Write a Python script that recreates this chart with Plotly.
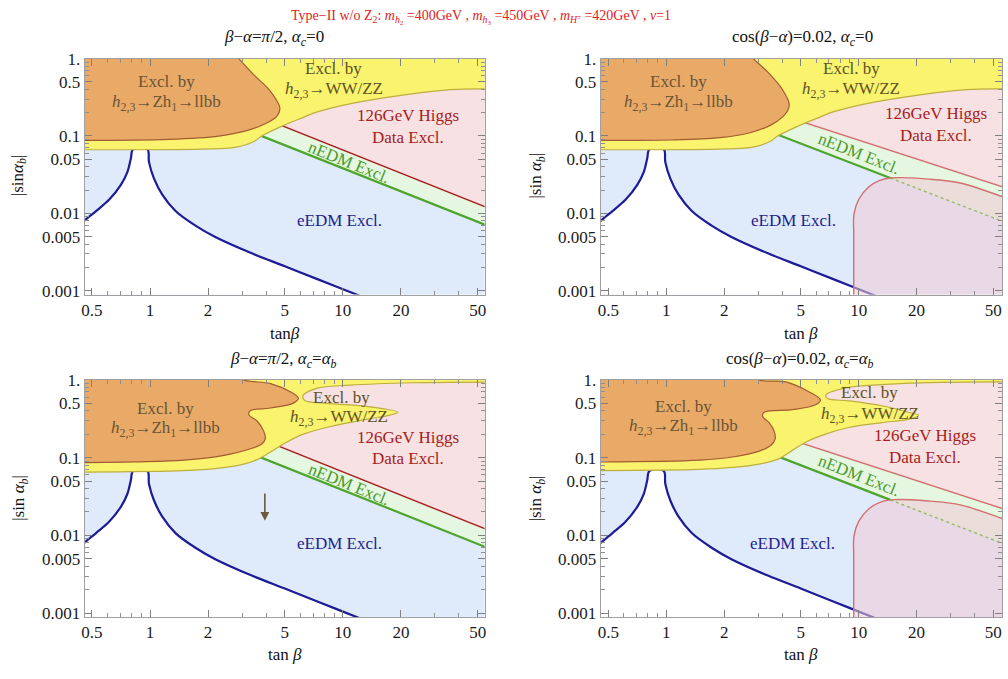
import numpy as np
import plotly.graph_objects as go

FONT = "Liberation Serif"

# ---------------- axis ticks ----------------
TANB_TICKS = [0.5, 1, 2, 5, 10, 20, 50]
TANB_LABELS = ["0.5", "1", "2", "5", "10", "20", "50"]
TANB_MINOR = [0.6, 0.7, 0.8, 0.9, 3, 4, 6, 7, 8, 9, 30, 40]
SIN_TICKS = [0.001, 0.005, 0.01, 0.05, 0.1, 0.5, 1]
SIN_LABELS = ["0.001", "0.005", "0.01", "0.05", "0.1", "0.5", "1."]
SIN_MINOR = [0.002, 0.003, 0.004, 0.006, 0.007, 0.008, 0.009,
             0.02, 0.03, 0.04, 0.06, 0.07, 0.08, 0.09,
             0.2, 0.3, 0.4, 0.6, 0.7, 0.8, 0.9]

# ---------------- region boundaries (tan beta, |sin alpha_b|) ----------------
# eEDM boundary (blue curve); allowed (white) region lies below it
EEDM_X = [0.44, 0.457, 0.525, 0.615, 0.706, 0.764, 0.795, 0.818, 0.969, 0.988,
          1.048, 1.158, 1.356, 1.72, 2.18, 3.37, 5.0, 7.43, 12.2, 14.0]
EEDM_Y = [0.0072, 0.00802, 0.0107, 0.01506, 0.0233, 0.0343, 0.0506, 0.0676, 0.0676, 0.0459,
          0.0283, 0.0174, 0.0107, 0.00693, 0.00494, 0.00304, 0.00207, 0.0014, 0.00086, 0.00075]

# nEDM exclusion line (green)
NEDM_L_X = [2.5, 90.0]
NEDM_L_Y = [0.1505, 0.00434]
NEDM_R_X = [2.5, 14.6, 90.0]
NEDM_R_Y = [0.155, 0.0286, 0.00498]

# 126 GeV Higgs data exclusion line (red)
HIGGS_L_X = [2.5, 90.0]
HIGGS_L_Y = [0.261, 0.00737]
HIGGS_R_X = [2.5, 90.0]
HIGGS_R_Y = [0.27, 0.01503]

# extra Higgs-data excluded island (cos(beta-alpha)=0.02 panels)
BLOB_X = [9.42, 9.42, 9.45, 10.0, 11.3, 12.7, 14.6, 23.0, 34.2, 55.2, 90.0]
BLOB_Y = [0.0004, 0.00544, 0.00975, 0.0151, 0.022, 0.0262, 0.0286, 0.0277, 0.0245, 0.0166, 0.0112]

# h_{2,3} -> WW/ZZ exclusion (yellow), lower boundary
YEL_T_X = [0.3, 1.86, 2.76, 3.5, 3.79, 4.81, 6.1, 7.43, 11.0, 20.0, 36.2, 90.0]
YEL_T_Y = [0.0664, 0.0676, 0.071, 0.0861, 0.0997, 0.133, 0.170, 0.206, 0.262, 0.335, 0.398, 0.398]
YEL_BL_X = [0.3, 1.50, 2.23, 3.06, 3.59, 4.21, 4.92, 6.24, 8.91, 13.2, 17.5, 19.3, 16.1, 11.75,
            7.92, 6.35, 6.2, 7.31, 10.9, 23.0, 90.0]
YEL_BL_Y = [0.0647, 0.068, 0.0727, 0.0826, 0.0944, 0.118, 0.150, 0.2006, 0.256, 0.310, 0.352, 0.384,
            0.427, 0.470, 0.503, 0.545, 0.62, 0.777, 0.855, 0.92, 0.94]
YEL_BR_X = [0.3, 1.49, 2.21, 3.04, 3.86, 4.52, 5.30, 6.72, 8.87, 13.2, 18.1, 20.5, 18.1, 13.2,
            8.87, 6.9, 6.75, 8.87, 13.2, 23.0, 90.0]
YEL_BR_Y = [0.068, 0.0706, 0.0748, 0.0826, 0.0972, 0.124, 0.158, 0.2006, 0.244, 0.282, 0.310, 0.35,
            0.384, 0.465, 0.538, 0.575, 0.64, 0.80, 0.87, 0.925, 0.945]

# h_{2,3} -> Z h_1 -> llbb exclusion (orange)
ORG_TL_X = [0.3, 1.25, 2.27, 3.24, 3.95, 4.53, 4.72, 4.53, 4.11, 3.50, 2.88, 2.6]
ORG_TL_Y = [0.0878, 0.0904, 0.0996, 0.119, 0.144, 0.178, 0.227, 0.289, 0.406, 0.598, 1.0, 1.3]
ORG_TR_X = [0.3, 1.05, 1.90, 2.72, 3.45, 4.04, 4.29, 4.35, 4.04, 3.45, 2.83, 2.55]
ORG_TR_Y = [0.0878, 0.0887, 0.0949, 0.11, 0.136, 0.178, 0.216, 0.263, 0.387, 0.628, 1.0, 1.3]
ORG_BL_X = [0.3, 0.83, 1.50, 2.42, 3.32, 3.80, 3.96, 3.88, 3.59, 3.25, 3.32, 4.21, 5.54, 5.88,
            5.33, 4.21, 3.06, 2.6]
ORG_BL_Y = [0.0858, 0.0883, 0.0927, 0.107, 0.130, 0.150, 0.174, 0.221, 0.296, 0.358, 0.403, 0.435,
            0.503, 0.581, 0.706, 0.898, 1.0, 1.3]
ORG_BR_X = [0.3, 1.49, 2.21, 3.04, 3.49, 3.68, 3.63, 3.42, 3.16, 3.23, 4.52, 5.97, 6.33, 5.30,
            4.18, 3.04, 2.7]
ORG_BR_Y = [0.0875, 0.0927, 0.102, 0.1215, 0.143, 0.174, 0.221, 0.282, 0.342, 0.384, 0.414, 0.479,
            0.554, 0.74, 0.943, 1.0, 1.3]

# label texts and positions (tan beta, |sin alpha_b|)
LABELS = ["Excl. by", "<i>h</i><sub>2,3</sub>→Zh<sub>1</sub>→llbb",
          "Excl. by", "<i>h</i><sub>2,3</sub>→WW/ZZ",
          "126GeV Higgs", "Data Excl.", "nEDM Excl.", "eEDM Excl."]
LBL_TL = [(1.22, 0.50), (1.22, 0.263), (8.99, 0.74), (8.99, 0.398),
          (21.8, 0.183), (21.8, 0.0968), (10.8, 0.0455), (9.6, 0.0080)]
LBL_TR = [(1.16, 0.50), (1.16, 0.263), (9.12, 0.74), (9.12, 0.387),
          (25.1, 0.196), (25.1, 0.1026), (10.0, 0.0595), (4.56, 0.0080)]
LBL_BL = [(1.20, 0.431), (1.20, 0.234), (9.8, 0.593), (9.6, 0.323),
          (21.8, 0.184), (21.8, 0.0964), (10.8, 0.0450), (9.6, 0.0078)]
LBL_BR = [(1.23, 0.461), (1.23, 0.249), (11.4, 0.68), (11.4, 0.356),
          (22.1, 0.193), (22.1, 0.101), (10.0, 0.0585), (4.52, 0.0078)]

# ---------------- styling ----------------
C_BG = "#DFEBFB"
C_WHITE = "#FFFFFF"
C_BLUE = "#1C1C96"
C_LGREEN = "#E5F7E1"
C_GREEN = "#4EA52E"
C_PINK = "#F8E1E2"
C_RED_L = "#A81C1C"
C_RED_R = "#D27070"
C_BLOB = "rgba(240,200,212,0.55)"
C_YEL = "#F9F36E"
C_YEL_LINE = "#BDAE3E"
C_ORG = "#E8AA66"
C_ORG_LINE = "#A45A32"
TXT_COLORS = ["#6A5438", "#6A5438", "#5E5224", "#5E5224", "#A51D1D", "#A51D1D", "#4C9A2C", "#22228C"]

Y_TOP, Y_BOT = 1.6, 0.0003

fig = go.Figure()


def lg(v):
    return float(np.log10(v))


def add_line(ax, xs, ys, color, width, dash="solid"):
    fig.add_trace(go.Scatter(x=xs, y=ys, mode="lines", xaxis=ax[0], yaxis=ax[1],
                             line=dict(color=color, width=width, dash=dash, shape="spline"),
                             hoverinfo="skip", showlegend=False))


def add_region(ax, xs, ys, fillcolor, side, line_color=None, line_width=0):
    yb = Y_TOP if side == "top" else Y_BOT
    fig.add_trace(go.Scatter(x=[xs[0], xs[-1]], y=[yb, yb], mode="lines", xaxis=ax[0], yaxis=ax[1],
                             line=dict(width=0), hoverinfo="skip", showlegend=False))
    fig.add_trace(go.Scatter(x=xs, y=ys, mode="lines", fill="tonexty", fillcolor=fillcolor,
                             xaxis=ax[0], yaxis=ax[1],
                             line=dict(color=line_color or fillcolor, width=line_width,
                                       shape="spline", smoothing=1.0),
                             hoverinfo="skip", showlegend=False))


panels = [
    (("x", "y"), "L", YEL_T_X, YEL_T_Y, ORG_TL_X, ORG_TL_Y, LBL_TL),
    (("x2", "y2"), "R", YEL_T_X, YEL_T_Y, ORG_TR_X, ORG_TR_Y, LBL_TR),
    (("x3", "y3"), "L", YEL_BL_X, YEL_BL_Y, ORG_BL_X, ORG_BL_Y, LBL_BL),
    (("x4", "y4"), "R", YEL_BR_X, YEL_BR_Y, ORG_BR_X, ORG_BR_Y, LBL_BR),
]

annotations = []
for ax, col, yx, yy, ox, oy, lbl in panels:
    # allowed region under the eEDM curve
    add_region(ax, EEDM_X, EEDM_Y, C_WHITE, "bottom", C_BLUE, 2.2)
    if col == "L":
        add_region(ax, NEDM_L_X, NEDM_L_Y, C_LGREEN, "top")
        add_line(ax, NEDM_L_X, NEDM_L_Y, C_GREEN, 2.2)
        add_region(ax, HIGGS_L_X, HIGGS_L_Y, C_PINK, "top", C_RED_L, 1.4)
    else:
        add_region(ax, NEDM_R_X, NEDM_R_Y, C_LGREEN, "top")
        add_line(ax, NEDM_R_X[:2], NEDM_R_Y[:2], C_GREEN, 2.2)
        add_region(ax, HIGGS_R_X, HIGGS_R_Y, C_PINK, "top", C_RED_R, 1.4)
        add_region(ax, BLOB_X, BLOB_Y, C_BLOB, "bottom", C_RED_R, 1.4)
        add_line(ax, NEDM_R_X[1:], NEDM_R_Y[1:], "rgba(120,175,60,0.75)", 1.4, "dot")
    add_region(ax, yx, yy, C_YEL, "top", C_YEL_LINE, 1.2)
    add_region(ax, ox, oy, C_ORG, "top", C_ORG_LINE, 1.2)

    for i, (txt, (tx, ty)) in enumerate(zip(LABELS, lbl)):
        ang = 0
        if i == 6:
            ang = 22 if col == "L" else 21.5
        annotations.append(dict(x=lg(tx), y=lg(ty), xref=ax[0], yref=ax[1], text=txt,
                                showarrow=False, textangle=ang,
                                font=dict(family=FONT, size=17, color=TXT_COLORS[i]),
                                xanchor="center", yanchor="middle"))

# arrow in lower-left panel
ARROW_X = 3.94
ARROW_Y = [0.036, 0.0154]
annotations.append(dict(x=lg(ARROW_X), y=lg(ARROW_Y[1]), ax=lg(ARROW_X), ay=lg(ARROW_Y[0]),
                        xref="x3", yref="y3", axref="x3", ayref="y3", text="", showarrow=True,
                        arrowhead=2, arrowsize=1.1, arrowwidth=1.6, arrowcolor="#6B5A3A"))

W, H = 1008, 679


def px(x):
    return x / W


def py(y):
    return 1 - y / H


def text_ann(x, y, txt, size=17, color="#111111", angle=0):
    annotations.append(dict(x=px(x), y=py(y), xref="paper", yref="paper", text=txt,
                            showarrow=False, textangle=angle, xanchor="center", yanchor="middle",
                            font=dict(family=FONT, size=size, color=color)))


text_ann(480, 8, "Type−II w/o Z<sub>2</sub>: <i>m</i><sub><i>h</i><sub>2</sub></sub> =400GeV , "
                 "<i>m</i><sub><i>h</i><sub>3</sub></sub> =450GeV , "
                 "<i>m</i><sub><i>H</i><sup>±</sup></sub> =420GeV , <i>ν</i>=1",
         size=14, color="#E02222")
text_ann(272, 30, "<i>β</i>−<i>α</i>=<i>π</i>/2, <i>α</i><sub><i>c</i></sub>=0")
text_ann(803, 30, "cos(<i>β</i>−<i>α</i>)=0.02, <i>α</i><sub><i>c</i></sub>=0")
text_ann(282, 359, "<i>β</i>−<i>α</i>=<i>π</i>/2, <i>α</i><sub><i>c</i></sub>=<i>α</i><sub><i>b</i></sub>")
text_ann(801, 359, "cos(<i>β</i>−<i>α</i>)=0.02, <i>α</i><sub><i>c</i></sub>=<i>α</i><sub><i>b</i></sub>")
text_ann(283, 332, "tan<i>β</i>")
text_ann(802, 332, "tan <i>β</i>")
text_ann(283, 660, "tan <i>β</i>")
text_ann(802, 660, "tan <i>β</i>")
text_ann(16, 170, "|sin<i>α</i><sub><i>b</i></sub>|", angle=-90)
text_ann(537, 170, "|sin <i>α</i><sub><i>b</i></sub>|", angle=-90)
text_ann(17, 500, "|sin <i>α</i><sub><i>b</i></sub>|", angle=-90)
text_ann(537, 500, "|sin <i>α</i><sub><i>b</i></sub>|", angle=-90)

X_RANGE_L = [lg(0.458), lg(54.3)]
X_RANGE_R = [lg(0.456), lg(55.6)]
Y_RANGE = [-3.05, 0.0]

DOM_XL = [px(82), px(484)]
DOM_XR = [px(600.7), px(1004)]
DOM_YT = [py(292), py(50.7)]
DOM_YB = [py(621.7), py(379.3)]

tickfont = dict(family=FONT, size=17, color="#1a1a1a")


def xax(domain, rng, anchor):
    return dict(domain=domain, range=rng, type="log", anchor=anchor,
                tickvals=TANB_TICKS, ticktext=TANB_LABELS, ticks="inside", ticklen=7,
                tickcolor="#808080", showline=True, linecolor="#a0a0a0", linewidth=1,
                mirror="ticks", showgrid=False, zeroline=False, tickfont=tickfont,
                minor=dict(tickvals=TANB_MINOR, ticks="inside", ticklen=4, tickcolor="#909090"),
                fixedrange=True)


def yax(domain, anchor):
    return dict(domain=domain, range=Y_RANGE, type="log", anchor=anchor,
                tickvals=SIN_TICKS, ticktext=SIN_LABELS, ticks="inside", ticklen=7,
                tickcolor="#808080", showline=True, linecolor="#a0a0a0", linewidth=1,
                mirror="ticks", showgrid=False, zeroline=False, tickfont=tickfont,
                minor=dict(tickvals=SIN_MINOR, ticks="inside", ticklen=4, tickcolor="#909090"),
                fixedrange=True)


fig.update_layout(
    width=W, height=H,
    margin=dict(l=0, r=0, t=0, b=0),
    paper_bgcolor="white",
    plot_bgcolor=C_BG,
    showlegend=False,
    hovermode=False,
    xaxis=xax(DOM_XL, X_RANGE_L, "y"),
    yaxis=yax(DOM_YT, "x"),
    xaxis2=xax(DOM_XR, X_RANGE_R, "y2"),
    yaxis2=yax(DOM_YT, "x2"),
    xaxis3=xax(DOM_XL, X_RANGE_L, "y3"),
    yaxis3=yax(DOM_YB, "x3"),
    xaxis4=xax(DOM_XR, X_RANGE_R, "y4"),
    yaxis4=yax(DOM_YB, "x4"),
    annotations=annotations,
)

fig.write_html("out.html")
